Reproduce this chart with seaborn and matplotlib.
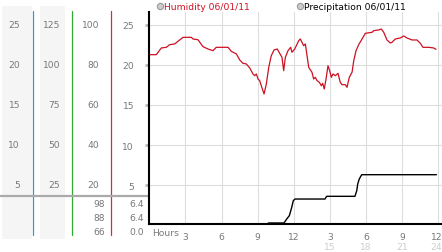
import numpy as np
import pandas as pd
import matplotlib
matplotlib.use('Agg')
import matplotlib.pyplot as plt
import matplotlib.transforms as mtrans
from matplotlib.patches import Rectangle
import seaborn as sns

# ---------------- data ----------------
hum_hours = [0.0, 0.58, 1.0, 1.41, 1.69, 2.11, 2.38, 2.80, 3.49, 3.63, 4.04, 4.46, 4.88,
             5.29, 5.56, 6.54, 6.81, 7.23, 7.51, 7.78, 8.06, 8.34, 8.61, 8.75, 8.89, 9.03,
             9.17, 9.30, 9.53, 9.72, 9.92, 10.13, 10.36, 10.63, 10.83, 11.02, 11.16, 11.30,
             11.52, 11.74, 11.85, 12.08, 12.21, 12.41, 12.54, 12.68, 12.82, 12.96, 13.10,
             13.24, 13.51, 13.65, 13.79, 13.93, 14.12, 14.29, 14.40, 14.53, 14.68, 14.84,
             14.98, 15.12, 15.26, 15.45, 15.67, 15.86, 16.01, 16.28, 16.42, 16.61, 16.84,
             16.98, 17.17, 17.39, 17.67, 17.94, 18.50, 18.64, 19.05, 19.27, 19.47, 19.74,
             20.02, 20.16, 20.43, 20.85, 21.13, 21.40, 21.82, 22.23, 22.51, 22.73, 23.21,
             23.62, 23.81]
hum_values = [21.29, 21.29, 22.13, 22.21, 22.54, 22.63, 22.96, 23.46, 23.46, 23.25, 23.16,
              22.29, 22.0, 21.79, 22.21, 22.21, 21.71, 21.38, 20.63, 20.21, 20.13, 19.63,
              18.88, 18.66, 18.88, 18.25, 18.04, 17.41, 16.38, 17.63, 19.71, 21.16, 21.88,
              22.0, 21.46, 20.96, 19.29, 20.96, 21.79, 22.21, 21.59, 22.0, 22.41, 23.04,
              23.25, 22.84, 22.41, 22.63, 21.16, 19.71, 19.09, 18.25, 18.46, 18.04, 17.84,
              17.41, 17.71, 17.0, 18.25, 19.91, 19.29, 18.46, 18.88, 18.66, 18.96, 17.84,
              17.54, 17.54, 17.21, 18.46, 19.09, 20.54, 21.79, 22.54, 23.25, 23.96, 24.09,
              24.29, 24.38, 24.5, 24.09, 23.13, 22.75, 22.84, 23.25, 23.38, 23.63, 23.38,
              23.13, 23.13, 22.71, 22.21, 22.21, 22.13, 21.96]

prec_hours = [0.0, 9.86, 9.88, 11.19, 11.41, 11.63, 11.83, 11.96, 12.10, 14.59, 14.73,
              17.08, 17.23, 17.31, 17.44, 17.64, 23.85]
prec_values = [0.0, 0.0, 0.17, 0.17, 0.68, 1.11, 2.19, 3.05, 3.26, 3.26, 3.61,
               3.61, 4.34, 5.2, 5.85, 6.4, 6.4]

x_ticks = [3, 6, 9, 12, 15, 18, 21, 24]
x_labels = ['3', '6', '9', '12', '3', '6', '9', '12']
x_ticks2 = [15, 18, 21, 24]
x_labels2 = ['15', '18', '21', '24']
y_ticks = [25, 20, 15, 10, 5]
col1_labels = ['25', '20', '15', '10', '5']
col2_labels = ['125', '100', '75', '50', '25']
col3_labels = ['100', '80', '60', '40', '20']
col4_labels = ['25', '20', '15', '10', '5']
col3_low = ['98', '88', '66']
col4_low = ['6.4', '6.4', '0.0']
legend_labels = ['Humidity 06/01/11', 'Precipitation 06/01/11']

hum_df = pd.DataFrame({'hour': hum_hours, 'humidity': hum_values})
prec_df = pd.DataFrame({'hour': prec_hours, 'precip': prec_values})

# ---------------- style ----------------
sns.set_style('white')
plt.rcParams['font.family'] = ['DejaVu Sans']
FS = 6.6
TXT = '#777777'
RED = '#cc1122'

W, H = 442, 253
fig = plt.figure(figsize=(W / 100, H / 100), dpi=100)

# decoration layer in pixel coords
deco = fig.add_axes([0, 0, 1, 1])
deco.set_xlim(0, W)
deco.set_ylim(H, 0)
deco.axis('off')

# main plot axes
L, R, T, B = 149.3, 442.0, 13.0, 225.3
ax = fig.add_axes([L / W, (H - B) / H, (R - L) / W, (B - T) / H])
ax.set_facecolor('white')
ax.set_xlim(0, 24.31)
ax.set_ylim(0.0875, 26.625)

sns.lineplot(data=hum_df, x='hour', y='humidity', ax=ax, color=RED, linewidth=0.9,
             estimator=None, sort=False, zorder=3)

ax2 = ax.twinx()
ax2.set_ylim(0, 27.39)
sns.lineplot(data=prec_df, x='hour', y='precip', ax=ax2, color='black', linewidth=1.0,
             estimator=None, sort=False, zorder=3)
ax2.set_ylabel('')
ax2.set_yticks([])
for s in ax2.spines.values():
    s.set_visible(False)

ax.set_xlabel('')
ax.set_ylabel('')
ax.set_xticks(x_ticks)
ax.set_xticklabels(x_labels)
ax.set_yticks(y_ticks)
ax.set_yticklabels(col4_labels)
ax.grid(True, color='#dddddd', linewidth=0.8)
ax.set_axisbelow(True)
for side in ['top', 'right']:
    ax.spines[side].set_visible(False)
for side in ['left', 'bottom']:
    ax.spines[side].set_color('black')
    ax.spines[side].set_linewidth(1.5)
    ax.spines[side].set_zorder(5)
ax.tick_params(axis='y', direction='out', length=3, width=2, color='#bbbbbb',
               pad=8, labelsize=FS, labelcolor=TXT)
ax.tick_params(axis='x', direction='out', length=3, width=2, color='#bbbbbb',
               pad=2.5, labelsize=FS, labelcolor=TXT)

# keep the last hour label inside the picture
last = ax.get_xticklabels()[-1]
last.set_ha('right')
last.set_transform(last.get_transform() + mtrans.ScaledTranslation(3 / 72, 0, fig.dpi_scale_trans))

bx = mtrans.blended_transform_factory(ax.transData, ax.transAxes)
ax.text(0.25, -0.018, 'Hours', transform=bx, ha='left', va='top', fontsize=FS, color=TXT)
for xt, lab in zip(x_ticks2, x_labels2):
    if xt == x_ticks2[-1]:
        tr = bx + mtrans.ScaledTranslation(3 / 72, 0, fig.dpi_scale_trans)
        ax.text(xt, -0.085, lab, transform=tr, ha='right', va='top', fontsize=FS, color='#cccccc')
    else:
        ax.text(xt, -0.085, lab, transform=bx, ha='center', va='top', fontsize=FS, color='#cccccc')

# ---------------- left panel ----------------
deco.add_patch(Rectangle((2, 7), 30, 233, facecolor='#f5f5f5', edgecolor='none', zorder=0))
deco.add_patch(Rectangle((40, 7), 25, 233, facecolor='#f5f5f5', edgecolor='none', zorder=0))
deco.plot([33, 33], [12, 236], color='#3399cc', linewidth=0.9, zorder=2)
deco.plot([72, 72], [12, 236], color='#33aa33', linewidth=0.9, zorder=2)
deco.plot([111, 111], [12, 236], color='#cc3333', linewidth=0.9, zorder=2)
deco.plot([0, 150], [197, 197], color='#aaaaaa', linewidth=1.6, zorder=3)

bt = mtrans.blended_transform_factory(deco.transData, ax.transData)
for yv, a, b, c in zip(y_ticks, col1_labels, col2_labels, col3_labels):
    deco.text(20, yv, a, transform=bt, ha='right', va='center', fontsize=FS, color=TXT)
    deco.text(60, yv, b, transform=bt, ha='right', va='center', fontsize=FS, color=TXT)
    deco.text(99, yv, c, transform=bt, ha='right', va='center', fontsize=FS, color=TXT)
for yp, a, b in zip([205, 218.5, 232.5], col3_low, col4_low):
    deco.text(105, yp, a, ha='right', va='center', fontsize=FS, color=TXT)
    deco.text(144, yp, b, ha='right', va='center', fontsize=FS, color=TXT)

# ---------------- legend ----------------
deco.plot([160, 300], [7, 7], linestyle='none', marker='o', markersize=4.5,
          markerfacecolor='#cccccc', markeredgecolor='#999999', markeredgewidth=0.8)
deco.text(164.5, 7, legend_labels[0], ha='left', va='center', fontsize=FS, color=RED)
deco.text(304.5, 7, legend_labels[1], ha='left', va='center', fontsize=FS, color='black')

fig.savefig('out.png', dpi=100)
